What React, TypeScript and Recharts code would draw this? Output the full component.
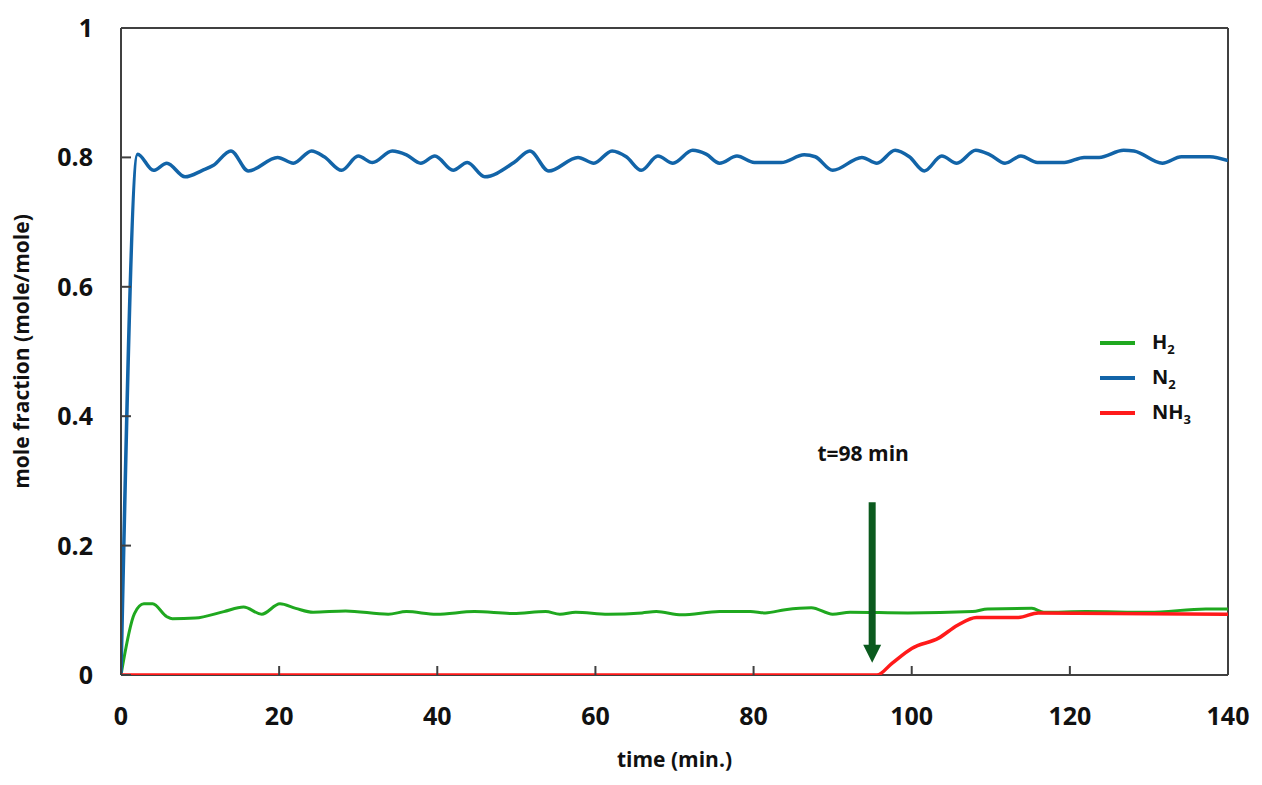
import React from 'react';
import {
  Line,
  LineChart,
  ReferenceLine,
  XAxis,
  YAxis
} from 'recharts';

// time (min.) and mole fraction
const n2Time = [
  0, 2.1, 4.1, 5.8, 8.1, 10.3, 11.7, 13.9, 16.1, 19.8, 21.8, 24.1, 25.7, 27.9,
  30.0, 31.8, 34.3, 36.1, 37.9, 39.7, 42.0, 43.8, 46.0, 49.7, 51.7, 54.1, 57.8,
  59.8, 62.1, 63.9, 65.8, 67.9, 69.8, 72.3, 74.0, 75.7, 77.9, 80.1, 83.5, 86.4,
  87.8, 90.0, 93.7, 95.6, 97.9, 99.7, 101.6, 103.8, 105.7, 108.1, 109.9, 111.8,
  113.8, 115.9, 119.3, 121.8, 123.7, 126.8, 128.1, 131.7, 134.1, 137.7, 140
];
const n2Values = [
  0, 0.805, 0.78, 0.791, 0.77, 0.78, 0.788, 0.81, 0.779, 0.8, 0.791, 0.81, 0.801,
  0.78, 0.802, 0.792, 0.81, 0.804, 0.791, 0.802, 0.78, 0.792, 0.77, 0.792, 0.81,
  0.779, 0.8, 0.791, 0.81, 0.801, 0.78, 0.802, 0.791, 0.811, 0.805, 0.791, 0.802,
  0.792, 0.792, 0.804, 0.801, 0.78, 0.8, 0.791, 0.811, 0.801, 0.779, 0.802, 0.791,
  0.811, 0.804, 0.791, 0.802, 0.792, 0.792, 0.8, 0.8, 0.811, 0.81, 0.791, 0.801,
  0.801, 0.795
];

const h2Time = [
  0, 1.7, 2.9, 4.0, 5.8, 6.5, 9.4, 13.0, 15.5, 17.8, 20.1, 22.1, 24.3, 28.4,
  33.8, 36.1, 39.9, 44.7, 49.6, 53.7, 55.5, 57.5, 61.6, 65.9, 67.7, 70.9, 75.7,
  79.6, 81.5, 84.0, 87.3, 90.0, 92.2, 99.5, 107.7, 109.6, 115.2, 116.7, 122,
  130, 137.2, 140
];
const h2Values = [
  0, 0.095, 0.11, 0.11, 0.09, 0.087, 0.088, 0.098, 0.105, 0.094, 0.11, 0.103,
  0.097, 0.099, 0.094, 0.098, 0.094, 0.098, 0.095, 0.098, 0.094, 0.097, 0.094,
  0.096, 0.098, 0.093, 0.098, 0.098, 0.096, 0.101, 0.104, 0.094, 0.097, 0.096,
  0.098, 0.102, 0.103, 0.097, 0.098, 0.097, 0.102, 0.102
];

const nh3Time = [0, 95.6, 97.5, 100.0, 103.4, 105.8, 108.2, 113.5, 116, 140];
const nh3Values = [0, 0, 0.018, 0.041, 0.057, 0.077, 0.089, 0.089, 0.096, 0.094];

const xTicks = [0, 20, 40, 60, 80, 100, 120, 140];
const yTicks = [0, 0.2, 0.4, 0.6, 0.8, 1];

const arrowTime = 95;
const arrowTop = 0.267;
const arrowTip = 0.019;
const arrowLabel = 't=98 min';

const toPoints = (time: number[], values: number[]) =>
  time.map((t, i) => ({ t, v: values[i] }));

const h2Data = toPoints(h2Time, h2Values);
const n2Data = toPoints(n2Time, n2Values);
const nh3Data = toPoints(nh3Time, nh3Values);

const FONT = '"Open Sans", "Noto Sans", sans-serif';
const AXIS = '#404040';
const COLORS = { h2: '#1fa81f', n2: '#1264a8', nh3: '#ff1a1a', arrow: '#0b5a1e' };

function XTick({ x, y, payload }: any) {
  return (
    <g>
      <line x1={x} y1={y} x2={x} y2={y - 9} stroke={AXIS} strokeWidth={2} />
      <text x={x} y={y + 50} textAnchor="middle" fontFamily={FONT} fontWeight={700} fontSize={25} fill="#111">
        {payload.value}
      </text>
    </g>
  );
}

function YTick({ x, y, payload }: any) {
  return (
    <g>
      <line x1={x} y1={y} x2={x + 10} y2={y} stroke={AXIS} strokeWidth={2} />
      <text x={x - 28} y={y + 9} textAnchor="end" fontFamily={FONT} fontWeight={700} fontSize={25} fill="#111">
        {String(payload.value)}
      </text>
    </g>
  );
}

function Arrow(props: any) {
  const { x1, y1, y2 } = props;
  return (
    <g>
      <text x={x1 - 9} y={y1 - 41} textAnchor="middle" fontFamily={FONT} fontWeight={700} fontSize={21} fill="#111">
        {arrowLabel}
      </text>
      <line x1={x1} y1={y1} x2={x1} y2={y2 - 16} stroke={COLORS.arrow} strokeWidth={7} />
      <polygon points={`${x1 - 9},${y2 - 18} ${x1 + 9},${y2 - 18} ${x1},${y2}`} fill={COLORS.arrow} />
    </g>
  );
}

const legendItems = [
  { key: 'h2', base: 'H', sub: '2', color: COLORS.h2 },
  { key: 'n2', base: 'N', sub: '2', color: COLORS.n2 },
  { key: 'nh3', base: 'NH', sub: '3', color: COLORS.nh3 }
];

function LegendBox() {
  return (
    <div
      style={{
        position: 'absolute',
        left: 1100,
        top: 325,
        fontFamily: FONT,
        fontWeight: 700,
        fontSize: 20,
        color: '#111'
      }}
    >
      {legendItems.map((it) => (
        <div key={it.key} style={{ display: 'flex', alignItems: 'center', height: 35 }}>
          <span style={{ display: 'inline-block', width: 35, height: 4, background: it.color, marginRight: 17 }} />
          <span>
            {it.base}
            <sub style={{ fontSize: 13 }}>{it.sub}</sub>
          </span>
        </div>
      ))}
    </div>
  );
}

export default function App() {
  return (
    <div style={{ position: 'absolute', left: 0, top: 0, width: 1262, height: 785, background: '#fff' }}>
      <LineChart width={1262} height={785} margin={{ top: 28, right: 34, bottom: 0, left: 0 }}>
        <XAxis
          type="number"
          dataKey="t"
          domain={[0, 140]}
          ticks={xTicks}
          interval={0}
          allowDataOverflow
          height={110}
          tickSize={0}
          tickMargin={0}
          tickLine={false}
          tick={<XTick />}
          axisLine={false}
          label={(p: any) => (
            <text
              x={p.viewBox.x + p.viewBox.width / 2}
              y={p.viewBox.y + 92}
              textAnchor="middle"
              fontFamily={FONT}
              fontWeight={700}
              fontSize={21}
              fill="#111"
            >
              time (min.)
            </text>
          )}
        />
        <YAxis
          type="number"
          dataKey="v"
          domain={[0, 1]}
          ticks={yTicks}
          interval={0}
          allowDataOverflow
          width={121}
          tickSize={0}
          tickMargin={0}
          tickLine={false}
          tick={<YTick />}
          axisLine={{ stroke: AXIS, strokeWidth: 2 }}
          label={(p: any) => {
            const cx = p.viewBox.x + 29;
            const cy = p.viewBox.y + p.viewBox.height / 2;
            return (
              <text
                x={cx}
                y={cy}
                transform={`rotate(-90 ${cx} ${cy})`}
                textAnchor="middle"
                fontFamily={FONT}
                fontWeight={700}
                fontSize={21}
                fill="#111"
              >
                mole fraction (mole/mole)
              </text>
            );
          }}
        />
        {/* frame: bottom, top and right edges */}
        <ReferenceLine y={0} stroke={AXIS} strokeWidth={2} />
        <ReferenceLine y={1} stroke={AXIS} strokeWidth={2} />
        <ReferenceLine x={140} stroke={AXIS} strokeWidth={2} />
        <Line data={h2Data} dataKey="v" type="monotone" stroke={COLORS.h2} strokeWidth={3} dot={false} isAnimationActive={false} name="H2" />
        <Line data={n2Data} dataKey="v" type="monotone" stroke={COLORS.n2} strokeWidth={3.5} dot={false} isAnimationActive={false} name="N2" />
        <Line data={nh3Data} dataKey="v" type="monotone" stroke={COLORS.nh3} strokeWidth={3.5} dot={false} isAnimationActive={false} name="NH3" />
        <ReferenceLine
          segment={[
            { x: arrowTime, y: arrowTop },
            { x: arrowTime, y: arrowTip }
          ]}
          shape={<Arrow />}
        />
      </LineChart>
      <LegendBox />
    </div>
  );
}
